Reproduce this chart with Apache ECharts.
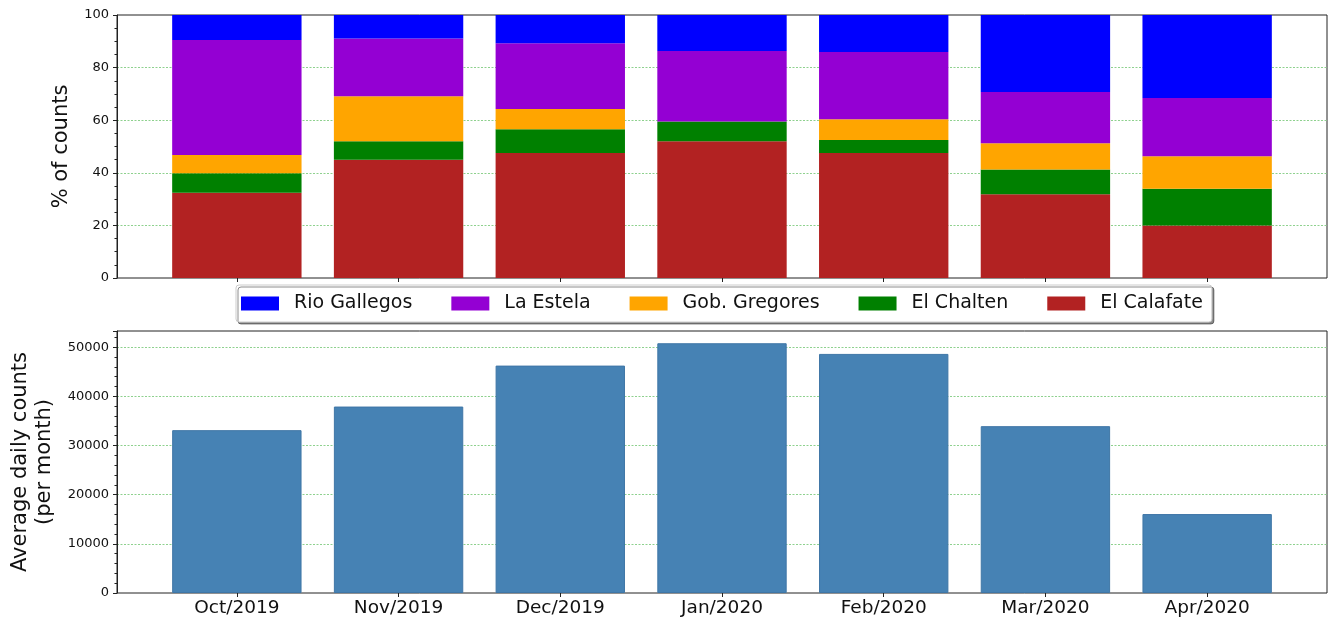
<!DOCTYPE html>
<html><head><meta charset="utf-8">
<script src="https://cdn.jsdelivr.net/npm/echarts@6/dist/echarts.min.js"></script>
<style>html,body{margin:0;padding:0;background:#fff}#c{width:1328px;height:621px}</style>
</head><body><div id="c"></div>
<script>
const categories = ['Oct/2019','Nov/2019','Dec/2019','Jan/2020','Feb/2020','Mar/2020','Apr/2020'];
const elCalafate  = [32.4, 45.0, 47.5, 52.0, 47.5, 31.8, 20.0];
const elChalten   = [7.4, 7.0, 9.1, 7.5, 5.0, 9.5, 13.9];
const gobGregores = [7.0, 17.1, 7.7, 0.0, 7.9, 9.9, 12.4];
const laEstela    = [43.7, 22.0, 25.0, 26.8, 25.5, 19.5, 22.1];
const rioGallegos = [9.5, 8.9, 10.7, 13.7, 14.1, 29.3, 31.6];
const avgDaily    = [33130, 37930, 46260, 50810, 48640, 33940, 16060];
const legendOrder = ['Rio Gallegos','La Estela','Gob. Gregores','El Chalten','El Calafate'];

const FONT = 'DejaVu Sans';
const stations = [
  {name:'El Calafate', data:elCalafate, color:'#b22222'},
  {name:'El Chalten', data:elChalten, color:'#008000'},
  {name:'Gob. Gregores', data:gobGregores, color:'#ffa500'},
  {name:'La Estela', data:laEstela, color:'#9400d3'},
  {name:'Rio Gallegos', data:rioGallegos, color:'#0000ff'}
];

const TOP1 = 15, H1 = 263, TOP2 = 331, H2 = 262;
const FRAME_L = 117, FRAME_W = 1210;
const DATA_L = 156, DATA_W = 1132;

function catAxis(gridIndex, showLabels){
  return {
    type:'category', gridIndex, data:categories, boundaryGap:true,
    axisLine:{show:false, onZero:false},
    axisTick:{show:true, alignWithLabel:true, length:4, lineStyle:{color:'#222', width:1}},
    axisLabel:{show:showLabels, fontFamily:FONT, fontSize:18.5, color:'#111', margin:6},
    splitLine:{show:false}
  };
}
function hiddenVal(gridIndex, max){
  return {type:'value', gridIndex, min:0, max, show:false, splitLine:{show:false}};
}
function frameX(gridIndex){
  return {type:'value', gridIndex, min:0, max:1, show:false, splitLine:{show:false}};
}
function frameY(gridIndex, max, interval, minorSplit, name, nameGap, showMax){
  return {
    type:'value', gridIndex, min:0, max, interval,
    name, nameLocation:'middle', nameGap, nameRotate:90,
    nameTextStyle:{fontFamily:FONT, fontSize:21, color:'#111', lineHeight:24},
    axisLine:{show:true, onZero:false, lineStyle:{color:'#222', width:1}},
    axisTick:{show:true, length:4, lineStyle:{color:'#222'}},
    minorTick:{show:true, splitNumber:minorSplit, length:2.5, lineStyle:{color:'#222'}},
    axisLabel:{fontFamily:FONT, fontSize:13, color:'#111', margin:8, showMaxLabel:showMax,
      formatter:v=>String(v)},
    splitLine:{show:true, showMinLine:false, showMaxLine:false,
      lineStyle:{color:'#8ed18e', type:[2,1.5], width:1}}
  };
}

const series = stations.map(s=>({
  name:s.name, type:'bar', stack:'pct', xAxisIndex:0, yAxisIndex:0,
  barWidth:'80%', data:s.data,
  itemStyle:{color:s.color}, emphasis:{disabled:true}
}));
series.push({
  name:'avg', type:'bar', xAxisIndex:1, yAxisIndex:1, barWidth:'80%',
  data:avgDaily, itemStyle:{color:'#4682b4', borderColor:'#3f76a6', borderWidth:1},
  emphasis:{disabled:true}
});

const chart = echarts.init(document.getElementById('c'), null, {renderer:'canvas'});
chart.setOption({
  animation:false,
  backgroundColor:'#fff',
  grid:[
    {left:DATA_L, top:TOP1, width:DATA_W, height:H1, containLabel:false},
    {left:DATA_L, top:TOP2, width:DATA_W, height:H2, containLabel:false},
    {left:FRAME_L, top:TOP1, width:FRAME_W, height:H1, show:true, borderColor:'#222', borderWidth:1, containLabel:false},
    {left:FRAME_L, top:TOP2, width:FRAME_W, height:H2, show:true, borderColor:'#222', borderWidth:1, containLabel:false}
  ],
  xAxis:[catAxis(0,false), catAxis(1,true), frameX(2), frameX(3)],
  yAxis:[
    hiddenVal(0, 100), hiddenVal(1, 53300),
    frameY(2, 100, 20, 4, '% of counts', 42, true),
    frameY(3, 53300, 10000, 5, 'Average daily counts\n(per month)', 60, false)
  ],
  legend:{
    data:legendOrder,
    left:236, top:285, orient:'horizontal',
    itemWidth:38, itemHeight:14, itemGap:39,
    padding:[9,9,9,5],
    icon:'rect',
    backgroundColor:'#fff', borderColor:'#cccccc', borderWidth:1, borderRadius:3,
    shadowColor:'rgba(0,0,0,0.45)', shadowOffsetX:2, shadowOffsetY:2, shadowBlur:0,
    textStyle:{fontFamily:FONT, fontSize:19, color:'#111', padding:[0,0,0,10]},
    selectedMode:false
  },
  series
});
</script></body></html>
